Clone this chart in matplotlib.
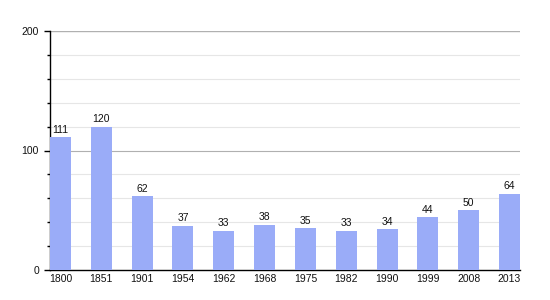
import matplotlib
matplotlib.use("Agg")
import matplotlib.pyplot as plt
import numpy as np

plt.rcParams["font.family"] = ["Liberation Sans", "DejaVu Sans"]

years = ["1800", "1851", "1901", "1954", "1962", "1968", "1975", "1982", "1990", "1999", "2008", "2013"]
values = [111, 120, 62, 37, 33, 38, 35, 33, 34, 44, 50, 64]

fig = plt.figure(figsize=(5.5, 3.0), dpi=100)
ax = fig.add_axes([50/550, 30/300, 470/550, 239/300])

x = np.arange(len(years))
w = 0.513
ax.bar(x, values, width=w, color="#9aacf8", zorder=3)
for xi, v in zip(x, values):
    ax.text(xi, v + 2, str(v), ha="center", va="bottom", fontsize=7.5, color="#111111", zorder=4)

ax.set_xlim(-w/2, len(years) - 1 + w/2)
ax.set_ylim(0, 200)
ax.set_xticks(x)
ax.set_xticklabels(years, fontsize=7.5, color="#111111")
ax.tick_params(axis="x", length=0, pad=3)
ax.set_yticks([0, 100, 200])
ax.set_yticklabels(["0", "100", "200"], fontsize=7.5, color="#111111")
ax.set_yticks(np.arange(20, 200, 20), minor=True)
ax.tick_params(axis="y", which="major", length=4, width=1, direction="out", pad=4)
ax.tick_params(axis="y", which="minor", length=2.5, width=1, direction="out")

for yv in range(20, 200, 20):
    if yv != 100:
        ax.axhline(yv, color="#e6e6e6", lw=0.8, zorder=1)
ax.axhline(100, color="#b0b0b0", lw=0.8, zorder=1)
ax.axhline(200, color="#b0b0b0", lw=1.0, zorder=1)

for s in ["top", "right"]:
    ax.spines[s].set_visible(False)
ax.spines["left"].set_color("black")
ax.spines["bottom"].set_color("black")
ax.spines["left"].set_linewidth(1)
ax.spines["bottom"].set_linewidth(1)

fig.savefig("out.png", dpi=100)
